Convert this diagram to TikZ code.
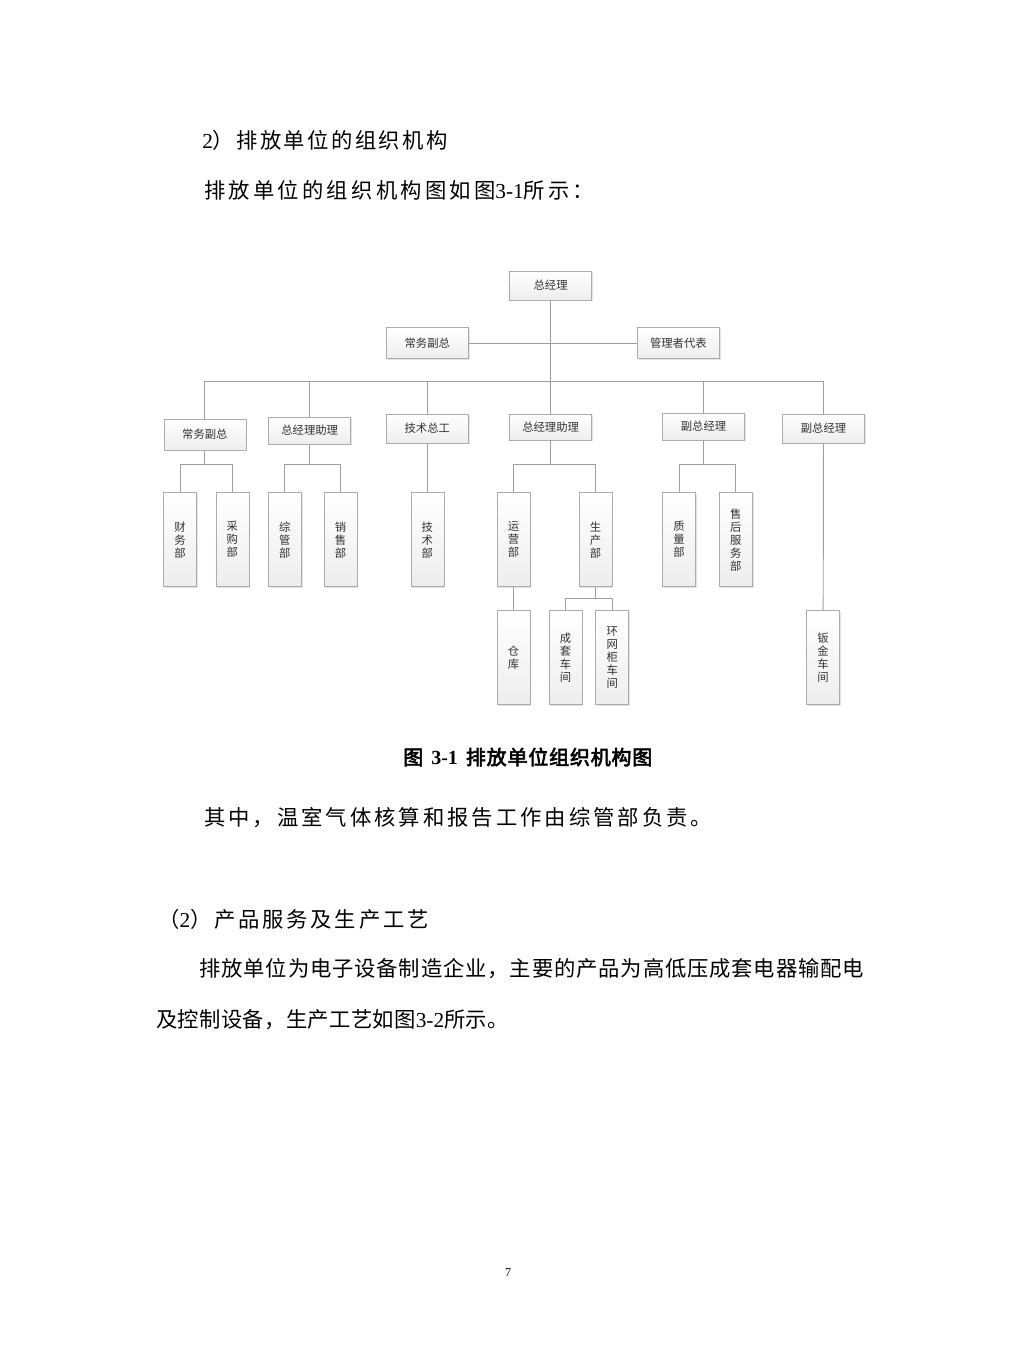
\documentclass[tikz,border=0pt]{standalone}
\usepackage{fontspec}
\setmainfont{Liberation Serif}
\newfontfamily\cjk{Noto Sans CJK SC}
\newfontfamily\cjkbf[FakeBold=3,LetterSpace=4]{Noto Sans CJK SC}
\usetikzlibrary{shadows}
\begin{document}
\begin{tikzpicture}[x=0.75pt,y=-0.75pt,
  hbox/.style={draw=gray!65, top color=white, bottom color=gray!14,
    drop shadow={shadow xshift=0.9pt,shadow yshift=-0.9pt,opacity=0.22},
    minimum width=61.5pt, inner sep=0pt, text=black!80,
    font=\cjk\fontsize{8.5}{10}\selectfont},
  vbox/.style={hbox, minimum width=24.75pt, minimum height=70.5pt, align=center,
    font=\cjk\fontsize{8.5}{9.75}\selectfont},
  link/.style={draw=gray!75, line width=0.7pt},
  body/.style={anchor=west, inner sep=0pt, text=black}]
\fill[white] (0,0) rectangle (1017,1345);

% body text
\node[body, font=\cjk\fontsize{16}{19}\selectfont\addfontfeatures{LetterSpace=11}] (t1) at (202,140) {{\rmfamily 2}）排放单位的组织机构};
\node[body, font=\cjk\fontsize{16}{19}\selectfont\addfontfeatures{LetterSpace=15}] (t2) at (204,190) {排放单位的组织机构图如图{\rmfamily 3-1}所示：};

% top level
\node[hbox, minimum height=21.75pt] (gm) at (550.6,285.3) {总经理};
\node[hbox, minimum height=23.25pt] (vp0) at (427.3,343.2) {常务副总};
\node[hbox, minimum height=23.25pt] (rep) at (678.4,343.2) {管理者代表};

% level 2
\node[hbox, minimum height=23.25pt] (a) at (204.9,434.5) {常务副总};
\node[hbox, minimum height=20.25pt] (b) at (309.7,430.5) {总经理助理};
\node[hbox, minimum height=21.75pt] (c) at (427.3,428.5) {技术总工};
\node[hbox, minimum height=19.5pt] (d) at (550.6,427) {总经理助理};
\node[hbox, minimum height=20.25pt] (e) at (703.5,426.5) {副总经理};
\node[hbox, minimum height=21.75pt] (f) at (823.5,428.5) {副总经理};

% level 3
\node[vbox] (cw) at (180.1,539.7) {财\\务\\部};
\node[vbox] (cg) at (232.4,539.7) {采\\购\\部};
\node[vbox] (zg) at (284.8,539.7) {综\\管\\部};
\node[vbox] (xs) at (340.5,539.7) {销\\售\\部};
\node[vbox] (js) at (427.3,539.7) {技\\术\\部};
\node[vbox] (yy) at (513.6,539.7) {运\\营\\部};
\node[vbox] (sc) at (595.5,539.7) {生\\产\\部};
\node[vbox] (zl) at (679,539.7) {质\\量\\部};
\node[vbox] (sh) at (735.8,539.7) {售\\后\\服\\务\\部};

% level 4
\node[vbox] (ck) at (513.6,657.7) {仓\\库};
\node[vbox] (ct) at (565.5,657.7) {成\\套\\车\\间};
\node[vbox] (hw) at (612.2,657.7) {环\\网\\柜\\车\\间};
\node[vbox] (bj) at (823.1,657.7) {钣\\金\\车\\间};

% connectors
\coordinate (bus) at (550.6,381.7);
\draw[link] (gm) -- (bus);
\draw[link] (vp0) -- (rep);
\foreach \n in {a,b,c,d,e,f} \draw[link] (\n) |- (bus);

\coordinate (ja) at (204.9,464.3);
\coordinate (jb) at (309.7,464.3);
\coordinate (jd) at (550.6,464.3);
\coordinate (je) at (703.5,464.3);
\coordinate (jp) at (595.5,598.3);
\draw[link] (a) -- (ja);
\draw[link] (cw.north) |- (ja) -| (cg.north);
\draw[link] (b) -- (jb);
\draw[link] (zg.north) |- (jb) -| (xs.north);
\draw[link] (c) -- (js);
\draw[link] (d) -- (jd);
\draw[link] (yy.north) |- (jd) -| (sc.north);
\draw[link] (e) -- (je);
\draw[link] (zl.north) |- (je) -| (sh.north);
\draw[link] (yy) -- (ck);
\draw[link] (sc) -- (jp);
\draw[link] (ct.north) |- (jp) -| (hw.north);
\draw[link] (f) -- (bj);

% caption and remaining text
\node[body, font=\cjkbf\fontsize{15}{18}\selectfont] (cap) at (403,757) {图\hspace{6pt}{\rmfamily\bfseries 3-1}\hspace{6pt}排放单位组织机构图};
\node[body, font=\cjk\fontsize{16}{19}\selectfont\addfontfeatures{LetterSpace=14}] (t3) at (204,818) {其中，温室气体核算和报告工作由综管部负责。};
\node[body, font=\cjk\fontsize{16}{19}\selectfont\addfontfeatures{LetterSpace=13}] (t4) at (158,919) {（{\rmfamily 2}）产品服务及生产工艺};
\node[body, font=\cjk\fontsize{16}{19}\selectfont\addfontfeatures{LetterSpace=4}] (t5) at (199,969) {排放单位为电子设备制造企业，主要的产品为高低压成套电器输配电};
\node[body, font=\cjk\fontsize{16}{19}\selectfont\addfontfeatures{LetterSpace=1.5}] (t6) at (156,1020) {及控制设备，生产工艺如图{\rmfamily 3-2}所示。};
\node[inner sep=0pt, font=\rmfamily\fontsize{9}{10}\selectfont] (pg) at (508,1273) {7};
\end{tikzpicture}
\end{document}
